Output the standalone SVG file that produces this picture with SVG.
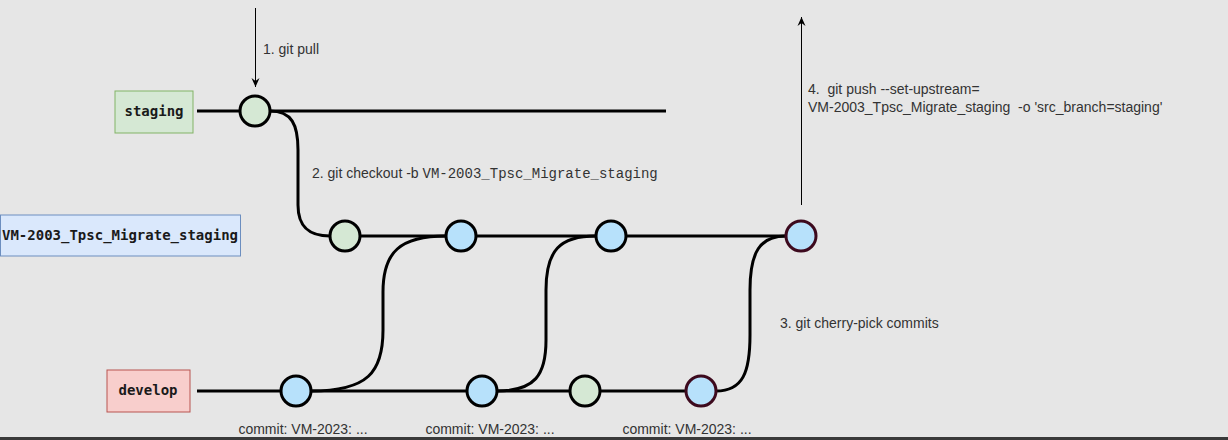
<svg xmlns="http://www.w3.org/2000/svg" width="1228" height="440" viewBox="0 0 1228 440">
<defs>
<marker id="ah" markerWidth="10" markerHeight="10" refX="9" refY="5" orient="auto" markerUnits="userSpaceOnUse" viewBox="0 0 10 10">
<path d="M0,1 L9,5 L0,9 L3,5 Z" fill="#000"/>
</marker>
<style>
.lbl{font-family:"Liberation Sans",Arial,sans-serif;font-size:14px;fill:#333;white-space:pre}
.mono{font-family:"Liberation Mono","DejaVu Sans Mono",monospace;font-size:14px}
.br{font-family:"DejaVu Sans Mono","Liberation Mono",monospace;font-size:14px;font-weight:bold;fill:#1a1a1a;text-anchor:middle}
.ln{fill:none;stroke:#000;stroke-width:3}
.c{stroke:#000;stroke-width:3}
.g{fill:#d5e8d4}
.b{fill:#b7e1fb}
.r{stroke:#3d0a1e}
</style>
</defs>
<rect x="0" y="0" width="1228" height="440" fill="#e6e6e6"/>
<rect x="0" y="437" width="1228" height="3" fill="#3a3a3a"/>

<g id="connectors">
<line class="ln" x1="197" y1="111" x2="240" y2="111"/>
<line class="ln" x1="270" y1="111" x2="666" y2="111"/>
<path class="ln" d="M270,111 C292,111 298,125 298,150 L298,205 C298,228 310,236 330,236"/>
<line class="ln" x1="360" y1="236" x2="446" y2="236"/>
<line class="ln" x1="476" y1="236" x2="596" y2="236"/>
<line class="ln" x1="626" y1="236" x2="786" y2="236"/>
<line class="ln" x1="197" y1="391" x2="281" y2="391"/>
<line class="ln" x1="311" y1="391" x2="467" y2="391"/>
<line class="ln" x1="497" y1="391" x2="570" y2="391"/>
<line class="ln" x1="600" y1="391" x2="686" y2="391"/>
<path class="ln" d="M311,391 C368,391 383,372 383,330 L383,292 C383,252 400,236 446,236"/>
<path class="ln" d="M497,391 C535,391 546,375 546,340 L546,290 C546,250 560,236 596,236"/>
<path class="ln" d="M716,391 C743,391 750,372 750,335 L750,290 C750,252 760,236 786,236"/>
<line x1="255.5" y1="8" x2="255.5" y2="87" stroke="#000" stroke-width="1" marker-end="url(#ah)"/>
<line x1="801.5" y1="205" x2="801.5" y2="17" stroke="#000" stroke-width="1" marker-end="url(#ah)"/>
</g>

<g id="staging">
<rect x="115" y="91" width="78" height="42" fill="#d5e8d4" stroke="#82b366"/>
<text class="br" x="154" y="116">staging</text>
</g>
<g id="vm-branch">
<rect x="0.5" y="215" width="240" height="41" fill="#dae8fc" stroke="#6c8ebf"/>
<text class="br" x="120" y="240">VM-2003_Tpsc_Migrate_staging</text>
</g>
<g id="develop">
<rect x="107" y="370" width="83" height="42" fill="#f8cecc" stroke="#b85450"/>
<text class="br" x="148" y="395">develop</text>
</g>

<g id="s1"><circle class="c g" cx="255" cy="111" r="15"/></g>
<g id="v1"><circle class="c g" cx="345" cy="236" r="15"/></g>
<g id="v2"><circle class="c b" cx="461" cy="236" r="15"/></g>
<g id="v3"><circle class="c b" cx="611" cy="236" r="15"/></g>
<g id="v4"><circle class="c b r" cx="801" cy="236" r="15"/></g>
<g id="d1"><circle class="c b" cx="296" cy="391" r="15"/></g>
<g id="d2"><circle class="c b" cx="482" cy="391" r="15"/></g>
<g id="d3"><circle class="c g" cx="585" cy="391" r="15"/></g>
<g id="d4"><circle class="c b r" cx="701" cy="391" r="15"/></g>

<g id="labels">
<text class="lbl" x="263" y="54">1. git pull</text>
<text class="lbl" x="312" y="178">2. git checkout -b <tspan class="mono">VM-2003_Tpsc_Migrate_staging</tspan></text>
<text class="lbl" x="780" y="328">3. git cherry-pick commits</text>
<text class="lbl" x="808" y="94">4.  git push --set-upstream=</text>
<text class="lbl" x="808" y="112">VM-2003_Tpsc_Migrate_staging  -o 'src_branch=staging'</text>
<text class="lbl" x="303" y="434" text-anchor="middle">commit: VM-2023: ...</text>
<text class="lbl" x="490" y="434" text-anchor="middle">commit: VM-2023: ...</text>
<text class="lbl" x="687" y="434" text-anchor="middle">commit: VM-2023: ...</text>
</g>
</svg>
